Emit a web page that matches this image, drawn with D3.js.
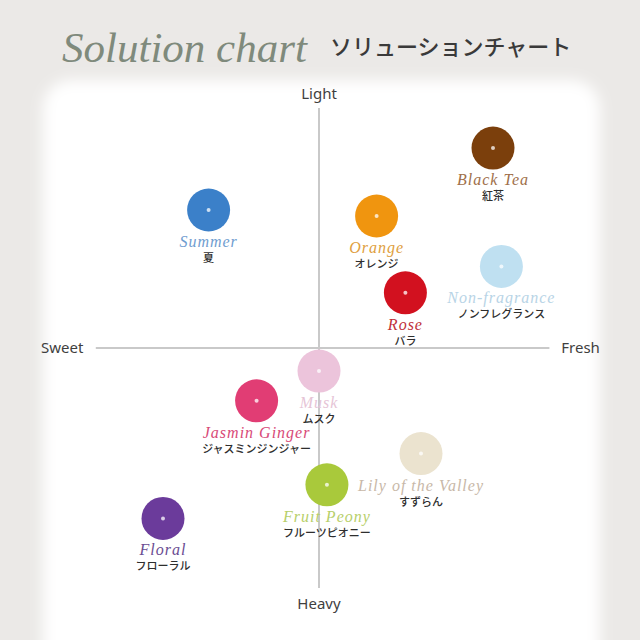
<!DOCTYPE html>
<html><head><meta charset="utf-8">
<script src="https://cdn.jsdelivr.net/npm/d3@7"></script>
<style>html,body{margin:0;padding:0;background:#ebe9e7;}svg{display:block;}</style>
</head><body>
<svg id="c" width="640" height="640"></svg>
<script>
// Data
const names = ["Black Tea","Summer","Orange","Non-fragrance","Rose","Musk","Jasmin Ginger","Lily of the Valley","Fruit Peony","Floral"];
const namesJa = ["紅茶","夏","オレンジ","ノンフレグランス","バラ","ムスク","ジャスミンジンジャー","すずらん","フルーツピオニー","フローラル"];
const freshness = [7.25,-4.6,2.4,7.6,3.6,0,-2.6,4.25,0.33,-6.5];   // Sweet(-) .. Fresh(+)
const lightness = [8.33,5.75,5.5,3.4,2.3,-0.96,-2.2,-4.4,-5.7,-7.1]; // Heavy(-) .. Light(+)
const colors = ["#7b3f0c","#3b80c9","#f0950f","#bfe0f1","#d2111f","#ecc4db","#e13d74","#ebe3cf","#a9c93b","#6b3b9b"];
const labelColors = ["#a0704a","#6f9dd0","#e0a040","#b8d4e6","#c0303a","#e6c4d6","#d84a78","#c8b8a8","#b7cf6a","#6a4c92"];
const axisLabels = {top:"Light", bottom:"Heavy", left:"Sweet", right:"Fresh"};
const titleEn = "Solution chart", titleJa = "ソリューションチャート";

const svg = d3.select("#c");
const defs = svg.append("defs");
defs.append("filter").attr("id","blur").attr("x","-10%").attr("y","-10%").attr("width","120%").attr("height","120%")
  .append("feGaussianBlur").attr("stdDeviation",7);

// panel
svg.append("rect").attr("x",43).attr("y",80).attr("width",557).attr("height",600).attr("rx",28)
  .attr("fill","#ffffff").attr("filter","url(#blur)");

// title
svg.append("text").attr("x",62).attr("y",62).text(titleEn)
  .attr("font-family","Liberation Serif, DejaVu Serif, serif").attr("font-style","italic")
  .attr("font-size",43).attr("fill","#7f8a7c");
svg.append("text").attr("x",330).attr("y",55).text(titleJa)
  .attr("font-family","Noto Sans CJK JP, sans-serif").attr("font-size",22).attr("font-weight",500).attr("fill","#3a3a3a");

const x = d3.scaleLinear().domain([-10,10]).range([79,559]);
const y = d3.scaleLinear().domain([-10,10]).range([588,108]);

// axes
const g = svg.append("g");
g.append("line").attr("x1",x(0)).attr("x2",x(0)).attr("y1",y(10)).attr("y2",y(-10))
  .attr("stroke","#c9c9c9").attr("stroke-width",2);
g.append("line").attr("x1",x(-9.3)).attr("x2",x(9.6)).attr("y1",y(0)).attr("y2",y(0))
  .attr("stroke","#c9c9c9").attr("stroke-width",2);

const axFont = "Noto Sans, DejaVu Sans, sans-serif";
g.append("text").attr("x",x(0)).attr("y",y(10)-9).attr("text-anchor","middle").text(axisLabels.top)
  .attr("font-family",axFont).attr("font-size",15).attr("fill","#3f3f3f");
g.append("text").attr("x",x(0)).attr("y",y(-10)+21).attr("text-anchor","middle").text(axisLabels.bottom)
  .attr("font-family",axFont).attr("font-size",15).attr("fill","#3f3f3f");
g.append("text").attr("x",x(-10.7)).attr("y",y(0)+5).attr("text-anchor","middle").text(axisLabels.left)
  .attr("font-family",axFont).attr("font-size",15).attr("fill","#3f3f3f");
g.append("text").attr("x",x(10.9)).attr("y",y(0)+5).attr("text-anchor","middle").text(axisLabels.right)
  .attr("font-family",axFont).attr("font-size",15).attr("fill","#3f3f3f");

const data = names.map((n,i)=>({n, ja:namesJa[i], fx:freshness[i], ly:lightness[i], c:colors[i], lc:labelColors[i]}));

const nodes = svg.append("g").selectAll("g").data(data).join("g")
  .attr("transform",d=>`translate(${x(d.fx)},${y(d.ly)})`);
nodes.append("circle").attr("r",21.5).attr("fill",d=>d.c);
nodes.append("circle").attr("r",2).attr("fill","#ffffff").attr("opacity",0.75);
nodes.append("text").attr("y",37).attr("text-anchor","middle").text(d=>d.n)
  .attr("font-family","Liberation Serif, DejaVu Serif, serif").attr("font-style","italic")
  .attr("font-size",16).attr("letter-spacing",1).attr("fill",d=>d.lc);
nodes.append("text").attr("y",52).attr("text-anchor","middle").text(d=>d.ja)
  .attr("font-family","Noto Sans CJK JP, sans-serif").attr("font-size",11).attr("font-weight",500).attr("fill","#2e2e2e");
</script>
</body></html>
